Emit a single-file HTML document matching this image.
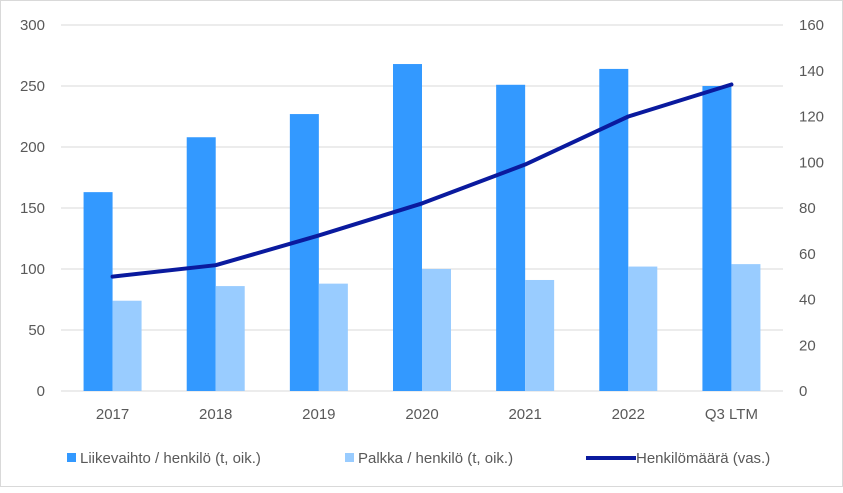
<!DOCTYPE html>
<html><head><meta charset="utf-8">
<style>
html,body{margin:0;padding:0;background:#fff;}
#wrap{width:843px;height:487px;position:relative;box-sizing:border-box;border:1px solid #d9d9d9;}
svg text{font-family:"Liberation Sans",sans-serif;font-size:15px;fill:#595959;}
</style></head>
<body>
<div id="wrap">
<svg id="chart" width="843" height="487"></svg>
</div>
<script>
const categories=["2017","2018","2019","2020","2021","2022","Q3 LTM"];
const revenue=[163,208,227,268,251,264,250];
const salary=[74,86,88,100,91,102,104];
const headcount=[50,55,68,82,99,120,134];
const leftTicks=[0,50,100,150,200,250,300];
const rightTicks=[0,20,40,60,80,100,120,140,160];

const NS="http://www.w3.org/2000/svg";
const svg=document.getElementById('chart');
const x0=60,x1=782,yTop=24,yBot=390;
const catW=(x1-x0)/categories.length;
const yL=v=>yBot-(v/300)*(yBot-yTop);
const yR=v=>yBot-(v/160)*(yBot-yTop);
const xc=i=>x0+catW*(i+0.5);
function mk(t,a){const e=document.createElementNS(NS,t);for(const k in a)e.setAttribute(k,a[k]);svg.appendChild(e);return e;}

leftTicks.forEach(v=>{
  const g=mk('line',{x1:x0,x2:x1,y1:yL(v),y2:yL(v),stroke:'#d9d9d9','stroke-width':1});
  
  
  const t=mk('text',{x:44,y:yL(v)+5,'text-anchor':'end'});t.textContent=v;
  
  
});
rightTicks.forEach(v=>{
  const t=mk('text',{x:798,y:yR(v)+5,'text-anchor':'start'});t.textContent=v;
  
  
});
const bw=29;
categories.forEach((c,i)=>{
  const b1=mk('rect',{x:xc(i)-bw,y:yL(revenue[i]),width:bw,height:yBot-yL(revenue[i]),fill:'#3399ff'});
  
  
  const b2=mk('rect',{x:xc(i),y:yL(salary[i]),width:bw,height:yBot-yL(salary[i]),fill:'#99ccff'});
  
  
  const t=mk('text',{x:xc(i),y:418,'text-anchor':'middle'});t.textContent=c;
  
  
});
const pl=mk('polyline',{points:headcount.map((v,i)=>xc(i)+','+yR(v)).join(' '),fill:'none',stroke:'#0a1a9e','stroke-width':4,'stroke-linejoin':'round','stroke-linecap':'round'});



const legend=[["rect","#3399ff",66,"Liikevaihto / henkilö (t, oik.)"],["rect","#99ccff",344,"Palkka / henkilö (t, oik.)"],["line","#0a1a9e",585,"Henkilömäärä (vas.)"]];
legend.forEach(l=>{
  let s;
  if(l[0]==="rect") s=mk('rect',{x:l[2],y:452,width:9,height:9,fill:l[1]});
  else s=mk('line',{x1:l[2],x2:l[2]+50,y1:457,y2:457,stroke:l[1],'stroke-width':4});
  
  
  const t=mk('text',{x:l[0]==="rect"?l[2]+13:l[2]+50,y:462});t.textContent=l[3];
  
  
});
</script>
</body></html>
